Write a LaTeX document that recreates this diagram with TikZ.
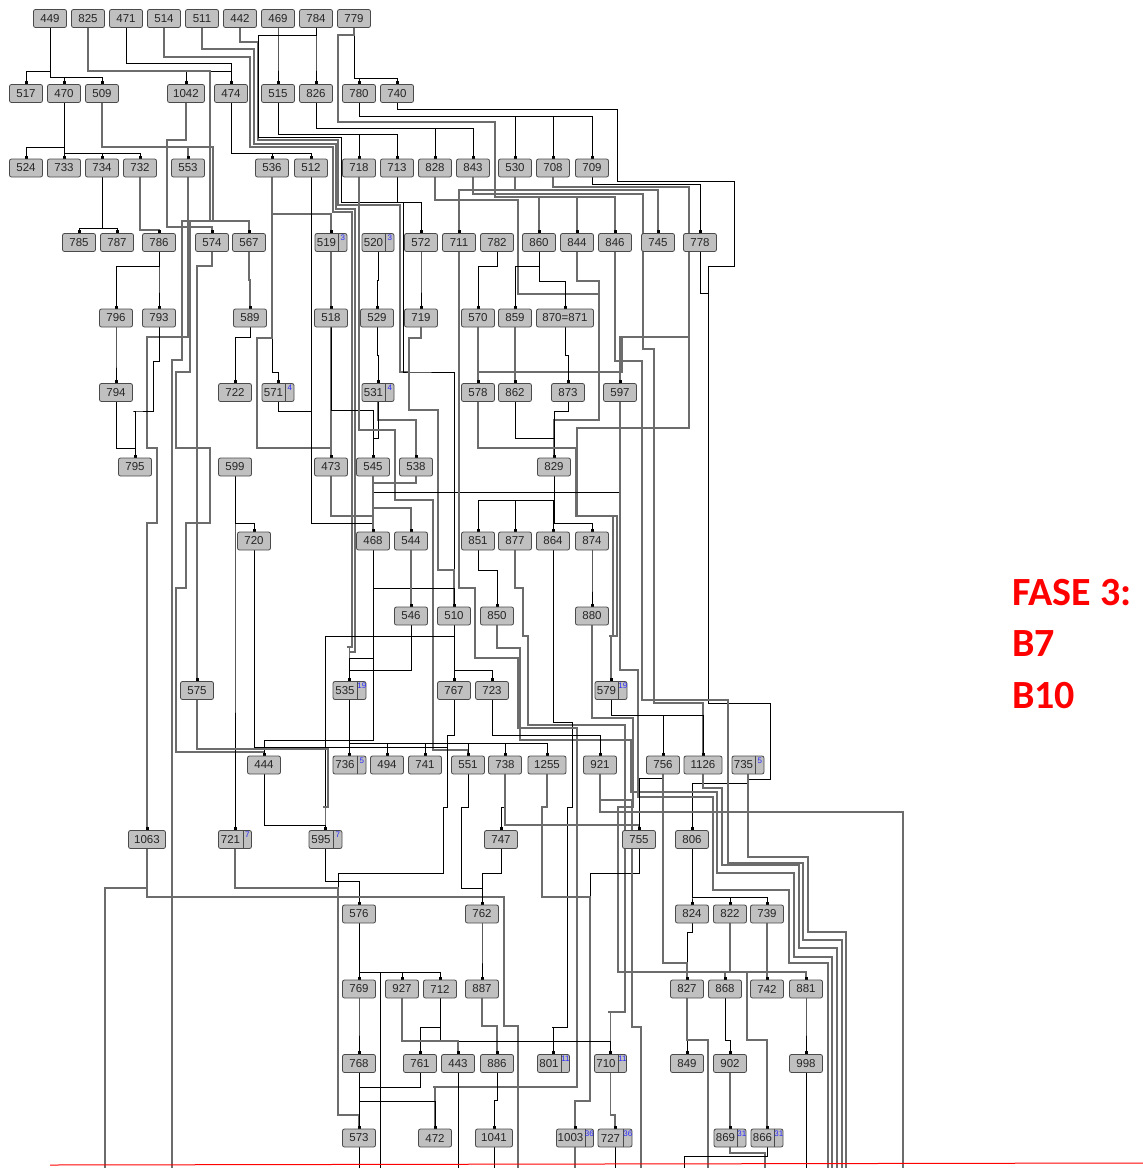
\documentclass[tikz,border=0pt]{standalone}
\usepackage{fontspec}
\setmainfont{Liberation Sans}
\newfontfamily\fasefont{Carlito}
\usetikzlibrary{arrows.meta,backgrounds}
\definecolor{boxfill}{HTML}{C0C0C0}
\definecolor{boxline}{HTML}{4A4A4A}
\definecolor{badgeblue}{HTML}{2A2AFF}
\definecolor{linegray}{HTML}{6C6C6C}
\newcommand\nodefont{\fontsize{11.5}{12}\selectfont}
\tikzset{
  box/.style={draw=boxline, fill=boxfill, rounded corners=2pt, minimum width=33pt, minimum height=18pt, inner sep=0pt, font=\nodefont, text=black!85, line width=0.8pt},
  lbl/.style={inner sep=0pt, font=\nodefont, text=black!85},
  bnum/.style={inner sep=0pt, font=\fontsize{8}{8}\selectfont, text=badgeblue},
  e/.style={draw=black, line width=0.8pt, -{Square[length=3pt,width=3pt,color=black]}},
  g/.style={draw=linegray, line width=1.25pt, -{Square[length=3pt,width=3pt,color=black]}},
  en/.style={draw=black, line width=0.8pt},
  gn/.style={draw=linegray, line width=1.25pt},
  fase/.style={anchor=base west, inner sep=0pt, text=red, font=\fasefont\bfseries\fontsize{40}{48}\selectfont}
}
\newcommand\N[5][]{\node[box,#1] (#2) at (#3,#4) {#5};}
\newcommand\B[6]{%
  \node[box,minimum width=#6] (#1) at (#2,#3) {};
  \node[lbl] (#1t) at ([xshift=-4.5pt]#1.center) {#4};
  \draw[boxline,line width=0.8pt] ([xshift=-9pt]#1.north east) -- ([xshift=-9pt]#1.south east);
  \node[bnum] (#1n) at ([xshift=-4.5pt,yshift=-5pt]#1.north east) {#5};}
\newcommand\ed[4][e]{\draw[#1] (#2.south) -- (#2.south |- 0,#3) -| (#4.north);}
\begin{document}
\begin{tikzpicture}[x=1pt,y=-1pt]
\useasboundingbox (0,0) rectangle (1143,1168);
% row 1
\N{n449}{50}{18.5}{449} \N{n825}{88}{18.5}{825} \N{n471}{126}{18.5}{471}
\N{n514}{164}{18.5}{514} \N{n511}{202}{18.5}{511} \N{n442}{240}{18.5}{442}
\N{n469}{278}{18.5}{469} \N{n784}{316}{18.5}{784} \N{n779}{354}{18.5}{779}
% row 2
\N{n517}{26}{93.5}{517} \N{n470}{64}{93.5}{470} \N{n509}{102}{93.5}{509}
\N[minimum width=37pt]{n1042}{186}{93.5}{1042} \N{n474}{231}{93.5}{474}
\N{n515}{278}{93.5}{515} \N{n826}{316}{93.5}{826} \N{n780}{359}{93.5}{780} \N{n740}{397}{93.5}{740}
% row 3
\N{n524}{26}{168}{524} \N{n733}{64}{168}{733} \N{n734}{102}{168}{734} \N{n732}{140}{168}{732}
\N{n553}{188}{168}{553} \N{n536}{272}{168}{536} \N{n512}{311}{168}{512} \N{n718}{359}{168}{718}
\N{n713}{397}{168}{713} \N{n828}{435}{168}{828} \N{n843}{473}{168}{843} \N{n530}{515}{168}{530}
\N{n708}{553}{168}{708} \N{n709}{592}{168}{709}
% row 4
\N{n785}{79}{242.5}{785} \N{n787}{117}{242.5}{787} \N{n786}{159}{242.5}{786}
\N{n574}{212}{242.5}{574} \N{n567}{249}{242.5}{567}
\B{n519}{331}{242.5}{519}{3}{32pt} \B{n520}{378}{242.5}{520}{3}{32pt}
\N{n572}{421}{242.5}{572} \N{n711}{459}{242.5}{711} \N{n782}{497}{242.5}{782}
\N{n860}{539}{242.5}{860} \N{n844}{577}{242.5}{844} \N{n846}{615}{242.5}{846}
\N{n745}{658}{242.5}{745} \N{n778}{700}{242.5}{778}
% row 5
\N{n796}{116}{318}{796} \N{n793}{159}{318}{793} \N{n589}{250}{318}{589}
\N{n518}{331}{318}{518} \N{n529}{377}{318}{529} \N{n719}{421}{318}{719}
\N{n570}{478}{318}{570} \N{n859}{515}{318}{859} \N[minimum width=57pt]{n870}{565}{318}{870=871}
% row 6
\N{n794}{116}{392.5}{794} \N{n722}{235}{392.5}{722}
\B{n571}{278}{392.5}{571}{4}{32pt} \B{n531}{378}{392.5}{531}{4}{32pt}
\N{n578}{478}{392.5}{578} \N{n862}{515}{392.5}{862} \N{n873}{568}{392.5}{873} \N{n597}{620}{392.5}{597}
% row 7
\N{n795}{135}{467}{795} \N{n599}{235}{467}{599} \N{n473}{331}{467}{473}
\N{n545}{373}{467}{545} \N{n538}{416}{467}{538} \N{n829}{554}{467}{829}
% row 8
\N{n720}{254}{541}{720} \N{n468}{373}{541}{468} \N{n544}{411}{541}{544}
\N{n851}{478}{541}{851} \N{n877}{515}{541}{877} \N{n864}{553}{541}{864} \N{n874}{592}{541}{874}
% row 9
\N{n546}{411}{616}{546} \N{n510}{454}{616}{510} \N{n850}{497}{616}{850} \N{n880}{592}{616}{880}
% row 10
\N{n575}{197}{690.5}{575} \B{n535}{349.5}{690.5}{535}{19}{33pt}
\N{n767}{454}{690.5}{767} \N{n723}{492}{690.5}{723} \B{n579}{611}{690.5}{579}{19}{32pt}
% row 11
\N{n444}{264}{765}{444} \B{n736}{349.5}{765}{736}{5}{33pt} \N{n494}{387}{765}{494}
\N{n741}{425}{765}{741} \N{n551}{468}{765}{551} \N{n738}{505}{765}{738}
\N[minimum width=38pt]{n1255}{547}{765}{1255} \N{n921}{600}{765}{921} \N{n756}{663}{765}{756}
\N[minimum width=38pt]{n1126}{703}{765}{1126} \B{n735}{748}{765}{735}{5}{32pt}
% row 12
\N[minimum width=37pt]{n1063}{147}{839.5}{1063} \B{n721}{235}{839.5}{721}{7}{33pt}
\B{n595}{325.5}{839.5}{595}{7}{33pt} \N{n747}{501}{839.5}{747} \N{n755}{639}{839.5}{755} \N{n806}{692}{839.5}{806}
% row 13
\N{n576}{359}{914}{576} \N{n762}{482}{914}{762} \N{n824}{692}{914}{824} \N{n822}{730}{914}{822} \N{n739}{767}{914}{739}
% row 14
\N{n769}{359}{989}{769} \N{n927}{402}{989}{927} \N{n712}{440}{989}{712} \N{n887}{482}{989}{887}
\N{n827}{687}{989}{827} \N{n868}{725}{989}{868} \N{n742}{767}{989}{742} \N{n881}{806}{989}{881}
% row 15
\N{n768}{359}{1063.5}{768} \N{n761}{420}{1063.5}{761} \N{n443}{458}{1063.5}{443} \N{n886}{497}{1063.5}{886}
\B{n801}{553.5}{1063.5}{801}{11}{32pt} \B{n710}{610.5}{1063.5}{710}{11}{32pt}
\N{n849}{687}{1063.5}{849} \N{n902}{730}{1063.5}{902} \N{n998}{806}{1063.5}{998}
% row 16
\N{n573}{359}{1138}{573} \N{n472}{435}{1138}{472} \N[minimum width=37pt]{n1041}{494}{1138}{1041}
\B{n1003}{575}{1138}{1003}{36}{37pt} \B{n727}{615}{1138}{727}{36}{34pt}
\B{n869}{730}{1138}{869}{31}{32pt} \B{n866}{767}{1138}{866}{31}{32pt}
% bottom ends
\foreach \bx in {105,172,359,380,458,494,518,575,615,641,684,708,765,806,828,832,837,842,846,903}
  {\coordinate (b\bx) at (\bx,1168);}
% text
\node[fase] (fase1) at (1012,605) {FASE 3:};
\node[fase] (fase2) at (1012,656) {B7};
\node[fase] (fase3) at (1012,708) {B10};
\draw[red,line width=1pt] (50,1165) coordinate (r1) -- (1143,1163) coordinate (r2);
\begin{pgfonlayer}{background}
% top tree
\ed{n449}{71}{n517} \ed{n449}{77}{n470} \ed{n449}{77}{n509}
\ed{n825}{71}{n1042} \ed{n825}{71}{n474} \ed{n471}{63}{n474}
\ed{n469}{60}{n515} \ed{n784}{60}{n826}
\ed{n779}{78}{n780} \ed{n779}{78}{n740}
\ed{n470}{147}{n524} \ed{n470}{153}{n733} \ed{n470}{153}{n734} \ed{n470}{153}{n732}
\ed[g]{n509}{147}{n553}
\ed{n474}{153}{n536} \ed{n474}{153}{n512}
\ed{n515}{134}{n718} \ed{n515}{134}{n713}
\ed{n826}{128}{n828} \ed{n826}{128}{n843}
\ed{n780}{116}{n530} \ed{n780}{116}{n708} \ed{n780}{116}{n709}
\ed{n734}{228}{n785} \ed{n734}{228}{n787}
\ed[g]{n732}{230}{n786}
\ed[g]{n530}{190}{n711} \ed[g]{n530}{190}{n745}
\ed{n709}{184}{n778}
\ed{n713}{202}{n572}
% long routes from top
\draw[gn] (n825.south) |- (210,71) |- (182,221) |- (172,360) -- (b172);
\draw[g] (n509.south) |- (213,147) |- (248,221) -| (n567.north);
\draw[g] (n509.south) |- (213,147) |- (190,221) |- (176,372) |- (210,448) |- (186,523) |- (176,588) |- (264,752) -- (n444.north);
\draw[g] (n1042.south) |- (167,140) |- (210,227) -| (n574.north);
\draw[g] (n553.south) |- (147,337) |- (157,448) |- (147,523) -| (n1063.north);
\draw[g] (n514.south) |- (250,57) |- (333,147) |- (352,212) |- (347,647) -| (n535.north);
\draw[g] (n511.south) |- (254,49) |- (336,144) |- (355,209) |- (350,652) -| (n535.north);
\draw[g] (n442.south) |- (258,42) |- (338,140) |- (400,205) |- (409,372) |- (438,410) |- (452,570) -| (n510.north);
\draw[e] (n784.south) |- (258,35) |- (341,137) |- (403,202) |- (409,372) -| (n510.north);
\draw[g] (n779.south) |- (338,35) |- (495,122) |- (539,197) -| (n860.north);
\draw[g] (n779.south) |- (338,35) |- (495,122) |- (577,197) -| (n844.north);
\draw[g] (n779.south) |- (338,35) |- (495,122) |- (615,197) -| (n846.north);
\draw[g] (n843.south) |- (643,194) |- (654,349) |- (703,703) -| (n1126.north);
\draw[g] (n828.south) |- (518,200) |- (599,294) |- (554,420) -| (n829.north);
\draw[g] (n844.south) |- (599,281) |- (554,420) -| (n829.north);
\draw[g] (n708.south) |- (689,187) |- (622,337) -| (n597.north);
\draw[g] (n708.south) |- (689,187) |- (622,337) |- (478,372) -| (n578.north);
\draw[g] (n708.south) |- (689,187) |- (577,428) |- (617,516) |- (609,636) -| (n579.north);
\draw[e] (n740.south) |- (617,109) |- (734,181) |- (708,266) |- (770,703) |- (748,779) |- (692,783) -| (n806.north);
\draw[e] (n778.south) |- (708,293) |- (770,703) |- (748,779) |- (692,783) -| (n806.north);
\draw[e] (n735.south) |- (692,783) -| (n806.north);
\draw[gn] (n735.south) |- (808,857) |- (846,932) -- (b846);
% middle left
\ed{n786}{266}{n796} \ed{n786}{280}{n793} \ed{n796}{355}{n794} \ed{n794}{448}{n795}
\draw[e] (n793.south) |- (153,361) |- (133,411) -| (n795.north);
\ed[g]{n574}{266}{n575} \ed[g]{n567}{280}{n589} \ed{n589}{337}{n722}
\ed[g]{n536}{214}{n519} \ed{n536}{372}{n571}
\draw[g] (n536.south) |- (257,338) |- (331,448) -| (n473.north);
\ed{n512}{523}{n468}
\draw[e] (n571.south) |- (311,411) |- (373,523) -| (n468.north);
\ed[g]{n519}{280}{n518} \ed[g]{n518}{430}{n473} \ed{n518}{410}{n545}
\ed{n520}{280}{n529} \ed{n529}{355}{n531} \ed[g]{n531}{420}{n538} \ed{n531}{438}{n545}
\draw[g] (n718.south) |- (395,430) |- (433,500) |- (468,750) -| (n551.north);
\ed{n572}{280}{n719}
\draw[g] (n719.south) |- (409,338) |- (438,410) |- (452,570) -| (n510.north);
% middle right
\ed{n782}{266}{n570} \ed{n860}{266}{n859} \ed{n860}{281}{n870}
\ed[g]{n570}{355}{n578} \ed[g]{n859}{355}{n862} \ed{n870}{355}{n873}
\ed{n862}{438}{n829} \ed{n873}{411}{n829}
\draw[g] (n578.south) |- (576,448) |- (613,516) |- (609,636) -| (n579.north);
\draw[gn] (n846.south) |- (642,361) |- (728,700) |- (803,863) |- (842,940) -- (b842);
\draw[e] (n597.south) |- (373,492) -| (n468.north);
\draw[gn] (n597.south) |- (638,670) |- (713,797) |- (789,890) |- (828,963) -- (b828);
\ed{n545}{500}{n468} \ed[g]{n545}{508}{n544} \ed[g]{n538}{483}{n468} \ed[g]{n473}{516}{n468}
\ed{n829}{500}{n851} \ed{n829}{500}{n877} \ed{n829}{500}{n864} \ed{n829}{523}{n874}
\ed{n599}{600}{n721} \ed{n599}{523}{n720}
\ed{n468}{588}{n510} \ed{n468}{658}{n535} \ed{n468}{740}{n444}
\ed[g]{n544}{580}{n546} \ed{n546}{670}{n535}
\ed{n510}{650}{n767} \ed{n510}{670}{n723} \ed{n510}{636}{n595}
\ed{n851}{570}{n850} \ed{n874}{580}{n880}
\draw[g] (n877.south) |- (523,588) |- (528,636) |- (625,725) |- (608,1012) -| (n710.north);
\draw[gn] (n850.south) |- (520,648) |- (631,740) |- (717,792) |- (794,873) |- (832,957) -- (b832);
\draw[gn] (n1126.south) |- (722,788) |- (799,865) |- (837,948) -- (b837);
\draw[g] (n880.south) |- (633,718) |- (618,807) |- (806,972) -| (n881.north);
\draw[g] (n880.south) |- (633,718) |- (618,807) |- (725,972) -| (n868.north);
\draw[e] (n864.south) |- (572,722) |- (567,807) |- (552,1027) -| (n801.north);
\draw[g] (n711.south) |- (475,588) |- (518,658) |- (577,728) |- (433,1087) -| (n472.north);
\draw[e] (n755.south) |- (590,873) |- (576,1101) -| (n1003.north);
\draw[g] (n1255.south) |- (542,807) |- (590,897) |- (576,1101) -| (n1003.north);
\ed{n723}{735}{n921} \ed{n579}{715}{n756} \ed{n579}{715}{n1126}
\ed{n535}{730}{n736}
\ed{n535}{743}{n494} \ed{n535}{743}{n741} \ed{n535}{743}{n551} \ed{n535}{743}{n738} \ed{n535}{743}{n1255}
% lower
\draw[e] (n720.south) |- (447,747) |- (443,807) |- (338,873) |- (359,1115) -| (n573.north);
\draw[e] (n767.south) |- (447,735) |- (443,807) |- (338,873) |- (359,1115) -| (n573.north);
\draw[g] (n575.south) |- (328,749) |- (323,807) -| (n595.north);
\ed{n444}{825}{n595}
\draw[g] (n721.south) |- (338,888) |- (359,1115) -| (n573.north);
\ed{n595}{881}{n576}
\draw[gn] (n1063.south) |- (105,888) -- (b105);
\draw[gn] (n1063.south) |- (504,897) |- (518,1026) -- (b518);
\draw[e] (n551.south) |- (461,807) |- (482,888) -| (n762.north);
\ed{n738}{807}{n747} \ed[g]{n738}{825}{n755} \ed{n747}{873}{n762} \ed{n756}{778}{n755}
\draw[gn] (n921.south) |- (903,812) -- (b903);
\draw[gn] (n921.south) |- (632,800) |- (641,1027) -- (b641);
\ed{n806}{897}{n824} \ed{n806}{897}{n822} \ed{n806}{897}{n739}
\ed{n824}{932}{n827}
\draw[g] (n822.south) |- (747,972) |- (752,1040) -| (n866.north);
\ed[g]{n739}{950}{n742} \ed{n868}{1040}{n902} \ed{n827}{1020}{n849}
\draw[gn] (n827.south) |- (708,1040) -- (b708);
\draw[g] (n756.south) |- (683,963) -| (n827.north);
\ed[g]{n902}{1100}{n869} \ed{n881}{1020}{n998}
\draw[en] (n998.south) -- (b806);
\ed{n576}{950}{n769} \ed{n576}{972}{n927} \ed{n576}{972}{n712}
\draw[en] (n576.south) |- (380,972) -- (b380);
\ed{n769}{1020}{n768} \ed{n768}{1100}{n573} \ed{n768}{1101}{n472} \ed{n761}{1087}{n573}
\ed{n762}{950}{n887} \ed[g]{n887}{1026}{n886} \ed{n886}{1100}{n1041}
\draw[en] (n1041.south) -- (b494);
\ed{n712}{1027}{n761} \ed{n712}{1041}{n443} \ed{n712}{1041}{n710} \ed[g]{n927}{1041}{n443}
\draw[en] (n443.south) -- (b458);
\ed[g]{n710}{1115}{n727}
\draw[en] (n727.south) -- (b615);
\draw[gn] (n1003.south) -- (b575);
\draw[en] (n573.south) -- (b359);
\draw[gn] (n869.south) |- (765,1153) -- (b765);
\draw[en] (n866.south) |- (684,1156) -- (b684);
\end{pgfonlayer}
\end{tikzpicture}
\end{document}
